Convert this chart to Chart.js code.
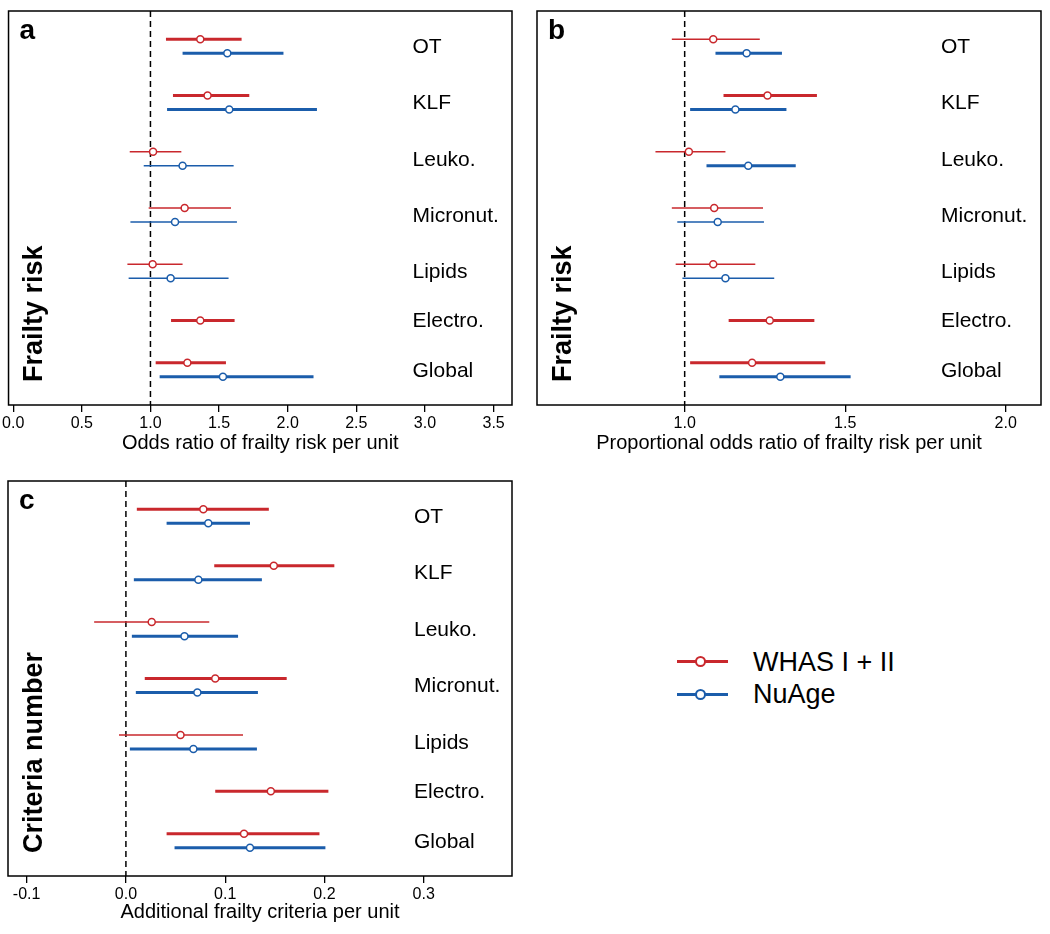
<!DOCTYPE html>
<html>
<head>
<meta charset="utf-8">
<script src="https://cdn.jsdelivr.net/npm/chart.js@4.4.0/dist/chart.umd.min.js"></script>
<style>
  html, body { margin: 0; padding: 0; background: #fff; }
  #page { position: relative; width: 1050px; height: 934px; font-family: "Liberation Sans", Arial, sans-serif; }
  canvas { position: absolute; }
  #panel-a { left: 0; top: 0; }
  #panel-b { left: 525px; top: 0; }
  #panel-c { left: 0; top: 470px; }
  .legend-item { position: absolute; left: 677px; height: 27px; font-size: 27px; line-height: 27px; color: #000; }
  .legend-item .key { position: absolute; left: 0; top: 11.7px; width: 51px; height: 3px; }
  .legend-item .dot { position: absolute; left: 17.5px; top: 7.7px; width: 7px; height: 7px; border-radius: 50%; border: 2px solid; background: #fff; }
  .legend-item .txt { position: absolute; left: 76px; top: 0; white-space: nowrap; }
</style>
</head>
<body>
<div id="page">
  <canvas id="panel-a" width="525" height="465"></canvas>
  <canvas id="panel-b" width="525" height="465"></canvas>
  <canvas id="panel-c" width="525" height="464"></canvas>
  <div id="legend"></div>
</div>
<script>
const FONT = '"Liberation Sans", Arial, sans-serif';
const RED = "#c9282d";
const BLUE = "#1b5dab";

const ROWS = ["OT", "KLF", "Leuko.", "Micronut.", "Lipids", "Electro.", "Global"];
const SERIES = ["WHAS I + II", "NuAge"];

// a: odds ratio of frailty risk
const A_WHAS_EST = [1.363, 1.416, 1.019, 1.249, 1.016, 1.363, 1.269];
const A_WHAS_LO = [1.113, 1.164, 0.849, 0.987, 0.832, 1.150, 1.038];
const A_WHAS_HI = [1.664, 1.720, 1.225, 1.587, 1.234, 1.613, 1.550];
const A_NU_EST = [1.560, 1.574, 1.234, 1.179, 1.147, null, 1.528];
const A_NU_LO = [1.234, 1.121, 0.951, 0.854, 0.841, null, 1.067];
const A_NU_HI = [1.969, 2.213, 1.606, 1.630, 1.569, null, 2.188];
const A_TICKS = [0, 0.5, 1, 1.5, 2, 2.5, 3, 3.5];

// b: proportional odds ratio
const B_WHAS_EST = [1.089, 1.258, 1.013, 1.092, 1.089, 1.265, 1.210];
const B_WHAS_LO = [0.960, 1.121, 0.909, 0.960, 0.972, 1.137, 1.017];
const B_WHAS_HI = [1.234, 1.412, 1.127, 1.244, 1.220, 1.404, 1.438];
const B_NU_EST = [1.193, 1.158, 1.198, 1.103, 1.127, null, 1.298];
const B_NU_LO = [1.096, 1.017, 1.068, 0.977, 0.993, null, 1.108];
const B_NU_HI = [1.303, 1.317, 1.346, 1.247, 1.279, null, 1.517];
const B_TICKS = [1, 1.5, 2];

// c: additional frailty criteria
const C_WHAS_EST = [0.078, 0.149, 0.026, 0.090, 0.055, 0.146, 0.119];
const C_WHAS_LO = [0.011, 0.089, -0.032, 0.019, -0.007, 0.090, 0.041];
const C_WHAS_HI = [0.144, 0.210, 0.084, 0.162, 0.118, 0.204, 0.195];
const C_NU_EST = [0.083, 0.073, 0.059, 0.072, 0.068, null, 0.125];
const C_NU_LO = [0.041, 0.008, 0.006, 0.010, 0.004, null, 0.049];
const C_NU_HI = [0.125, 0.137, 0.113, 0.133, 0.132, null, 0.201];
const C_TICKS = [-0.1, 0, 0.1, 0.2, 0.3];

// NuAge sits a quarter row under WHAS; the Global pair is lifted a quarter row
function rowY(i, s) {
  const lift = i === ROWS.length - 1 ? -0.25 : 0;
  return i + s * 0.25 + lift;
}

const decor = {
  id: "decor",
  afterDatasetsDraw(chart, args, opts) {
    const { ctx, chartArea: a, scales } = chart;
    ctx.save();
    ctx.strokeStyle = "#000";
    ctx.lineWidth = 1.5;
    ctx.strokeRect(a.left, a.top, a.right - a.left, a.bottom - a.top);

    ctx.fillStyle = "#000";
    ctx.textAlign = "left";
    ctx.textBaseline = "alphabetic";
    ctx.font = "bold 28px " + FONT;
    ctx.fillText(opts.letter, a.left + 11, a.top + 27.5);

    ctx.font = "21px " + FONT;
    ctx.textBaseline = "middle";
    ROWS.forEach((name, i) => {
      const ys = [rowY(i, 0)];
      if (opts.nuEst[i] != null) ys.push(rowY(i, 1));
      const mid = ys.reduce((t, v) => t + v, 0) / ys.length;
      ctx.fillText(name, a.left + opts.labelX, scales.y.getPixelForValue(mid) + 1);
    });

    ctx.translate(a.left + 33.5, a.bottom - 23);
    ctx.rotate(-Math.PI / 2);
    ctx.font = "bold 27px " + FONT;
    ctx.textBaseline = "alphabetic";
    ctx.fillText(opts.yTitle, 0, 0);
    ctx.restore();
  },
};

function makePanel(id, p) {
  const groups = [
    { est: p.whasEst, lo: p.whasLo, hi: p.whasHi, color: RED, s: 0 },
    { est: p.nuEst, lo: p.nuLo, hi: p.nuHi, color: BLUE, s: 1 },
  ];
  const datasets = [{
    type: "line",
    data: [{ x: p.ref, y: -0.5 }, { x: p.ref, y: 6.5 }],
    borderColor: "#000",
    borderWidth: 1.5,
    borderDash: [6, 4],
    pointRadius: 0,
    order: 3,
  }];
  for (const g of groups) {
    g.est.forEach((v, i) => {
      if (v == null) return;
      const y = rowY(i, g.s);
      datasets.push({
        type: "line",
        data: [{ x: g.lo[i], y }, { x: g.hi[i], y }],
        borderColor: g.color,
        // interval clear of the null value -> bold bar
        borderWidth: g.lo[i] > p.ref ? 3 : 1.5,
        pointRadius: 0,
        order: 2,
      });
    });
    datasets.push({
      type: "scatter",
      data: g.est.map((v, i) => (v == null ? null : { x: v, y: rowY(i, g.s) })).filter(Boolean),
      pointRadius: 3.5,
      borderWidth: 1.5,
      borderColor: g.color,
      backgroundColor: "#fff",
      order: 1,
    });
  }

  return new Chart(document.getElementById(id), {
    type: "scatter",
    data: { datasets },
    plugins: [decor],
    options: {
      responsive: false,
      animation: false,
      events: [],
      layout: { padding: p.pad },
      plugins: {
        legend: { display: false },
        tooltip: { enabled: false },
        decor: { letter: p.letter, yTitle: p.yTitle, nuEst: p.nuEst, labelX: p.labelX },
      },
      scales: {
        x: {
          type: "linear",
          min: p.min,
          max: p.max,
          afterBuildTicks: (s) => { s.ticks = p.ticks.map((v) => ({ value: v })); },
          afterFit: (s) => { s.height = p.axisH; },
          ticks: {
            autoSkip: false,
            maxRotation: 0,
            padding: 2,
            color: "#000",
            font: { family: FONT, size: 16 },
            callback: (v) => Number(v).toFixed(1),
          },
          grid: { drawOnChartArea: false, drawTicks: true, tickLength: 7, color: "#000", lineWidth: 1.3 },
          border: { display: false },
          title: {
            display: true,
            text: p.xTitle,
            color: "#000",
            font: { family: FONT, size: 20 },
            padding: { top: 0, bottom: p.titlePad },
          },
        },
        y: { type: "linear", min: -0.5, max: 6.5, reverse: true, display: false },
      },
    },
  });
}

makePanel("panel-a", {
  letter: "a", yTitle: "Frailty risk", xTitle: "Odds ratio of frailty risk per unit",
  whasEst: A_WHAS_EST, whasLo: A_WHAS_LO, whasHi: A_WHAS_HI,
  nuEst: A_NU_EST, nuLo: A_NU_LO, nuHi: A_NU_HI,
  ref: 1, min: -0.034, max: 3.634, ticks: A_TICKS,
  pad: { left: 8, top: 11, right: 13, bottom: 0 }, axisH: 60, titlePad: 10, labelX: 404,
});

makePanel("panel-b", {
  letter: "b", yTitle: "Frailty risk", xTitle: "Proportional odds ratio of frailty risk per unit",
  whasEst: B_WHAS_EST, whasLo: B_WHAS_LO, whasHi: B_WHAS_HI,
  nuEst: B_NU_EST, nuLo: B_NU_LO, nuHi: B_NU_HI,
  ref: 1, min: 0.540, max: 2.110, ticks: B_TICKS,
  pad: { left: 12, top: 11, right: 9, bottom: 0 }, axisH: 60, titlePad: 10, labelX: 404,
});

makePanel("panel-c", {
  letter: "c", yTitle: "Criteria number", xTitle: "Additional frailty criteria per unit",
  whasEst: C_WHAS_EST, whasLo: C_WHAS_LO, whasHi: C_WHAS_HI,
  nuEst: C_NU_EST, nuLo: C_NU_LO, nuHi: C_NU_HI,
  ref: 0, min: -0.1188, max: 0.389, ticks: C_TICKS,
  pad: { left: 8, top: 11, right: 13, bottom: 0 }, axisH: 58, titlePad: 10, labelX: 406,
});

// legend
const legend = document.getElementById("legend");
const LEGEND_TOPS = [648.5, 681.3];
SERIES.forEach((name, i) => {
  const color = i === 0 ? RED : BLUE;
  const item = document.createElement("div");
  item.className = "legend-item";
  item.style.top = LEGEND_TOPS[i] + "px";
  item.innerHTML =
    '<div class="key" style="background:' + color + '"></div>' +
    '<div class="dot" style="border-color:' + color + '"></div>' +
    '<span class="txt">' + name + "</span>";
  legend.appendChild(item);
});
</script>
</body>
</html>
